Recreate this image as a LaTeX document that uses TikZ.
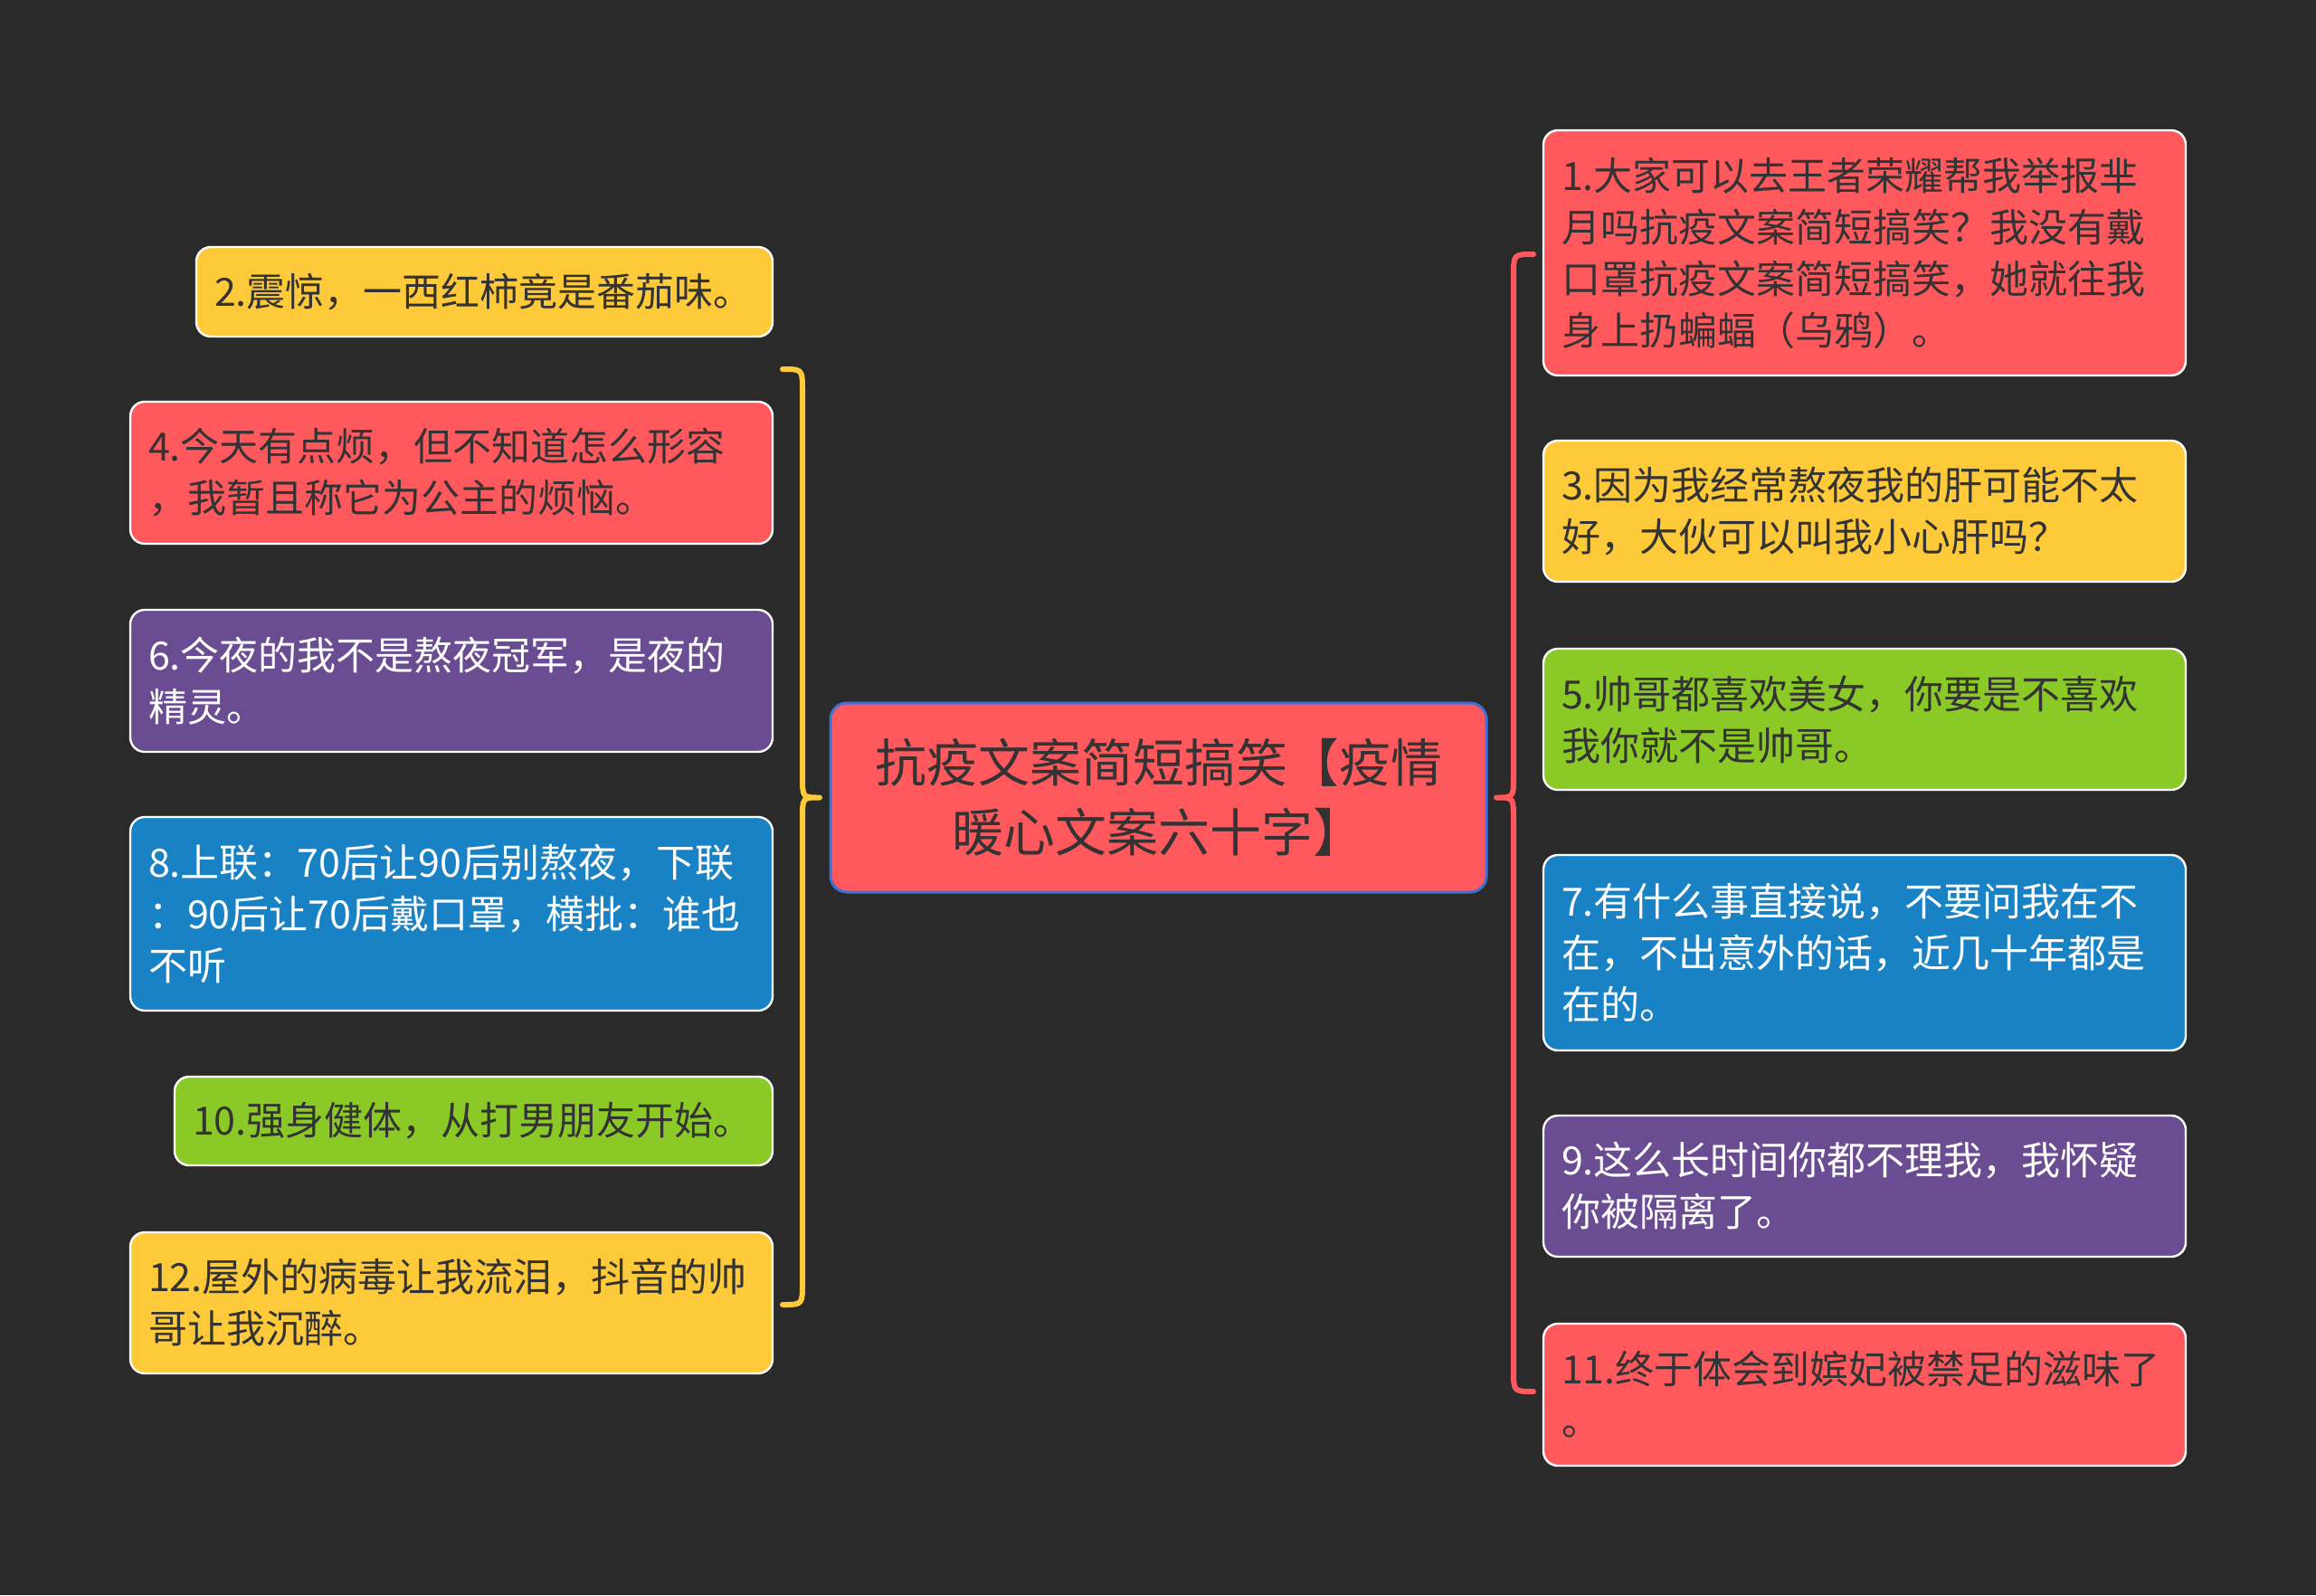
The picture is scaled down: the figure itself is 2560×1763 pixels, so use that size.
\documentclass[tikz,border=0pt]{standalone}
\usepackage{fontspec}
\setmainfont{Noto Sans CJK SC}
\definecolor{bg}{HTML}{2A2A2A}
\definecolor{cred}{HTML}{FF595E}
\definecolor{cyel}{HTML}{FFCA3A}
\definecolor{cgrn}{HTML}{8AC926}
\definecolor{cblu}{HTML}{1982C4}
\definecolor{cpur}{HTML}{6A4C93}
\definecolor{dtext}{HTML}{333333}
\definecolor{cborder}{HTML}{3F6FD8}
\begin{document}
\begin{tikzpicture}[x=0.5pt,y=-0.5pt,
  leaf/.style 2 args={rectangle, rounded corners=8pt, draw=white, line width=1.2pt,
    fill=#1, text=#2, align=left, inner xsep=10pt, inner ysep=0pt,
    font=\fontsize{21.5}{28.5}\selectfont},
  wide/.style={text width=335pt},
  root/.style={rectangle, rounded corners=9pt, draw=cborder, line width=1.5pt,
    fill=cred, text=dtext, align=center, inner sep=0pt,
    minimum width=362.5pt, minimum height=104.5pt,
    font=\fontsize{28.5}{38.5}\selectfont},
  brace/.style={line width=3pt, line cap=round, line join=round}]
\fill[bg] (0,0) rectangle (2560,1763);
\useasboundingbox (0,0) rectangle (2560,1763);

% center
\node[root] (c) at (1280.5,881.5) {抗疫文案简短搞笑【疫情\\暖心文案六十字】};

% left
\node[leaf={cyel}{dtext}, text width=298.5pt, minimum height=49.5pt] (b2) at (535.5,322.5) {2.震惊，一西红柿竟是番茄味。};
\node[leaf={cred}{dtext}, wide, minimum height=78.5pt] (b4) at (499,522.5) {4.今天有点烦，但不知道怎么形容\\，我暂且称它为公主的烦恼。};
\node[leaf={cpur}{white}, wide, minimum height=78.5pt] (b6) at (499,752.5) {6.今夜的我不是熬夜冠军，是夜的\\精灵。};
\node[leaf={cblu}{white}, wide, minimum height=107pt] (b8) at (499,1010) {8.上联：70后让90后别熬夜，下联\\：90后让70后戴口罩，横批：谁也\\不听};
\node[leaf={cgrn}{dtext}, text width=310.5pt, minimum height=49pt] (b10) at (523.5,1239) {10.强身健体，从打男朋友开始。};
\node[leaf={cyel}{dtext}, wide, minimum height=78pt] (b12) at (499,1440) {12.屋外的病毒让我流泪，抖音的帅\\哥让我沉醉。};

% right
\node[leaf={cred}{dtext}, wide, minimum height=135.5pt] (b1) at (2061,279.5) {1.大家可以去王者荣耀帮我举报芈\\月吗抗疫文案简短搞笑？我没有戴\\口罩抗疫文案简短搞笑，她就往我\\身上扔蝙蝠（乌鸦）。};
\node[leaf={cyel}{dtext}, wide, minimum height=78pt] (b3) at (2061,565) {3.因为我经常熬夜我的肝可能不太\\好，大伙可以叫我小心肝吗？};
\node[leaf={cgrn}{dtext}, wide, minimum height=78pt] (b5) at (2061,795) {5.帅哥都喜欢美女，你要是不喜欢\\我你就不是帅哥。};
\node[leaf={cblu}{white}, wide, minimum height=108pt] (b7) at (2061,1053) {7.有什么事直接说，不要问我在不\\在，不出意外的话，近几十年都是\\在的。};
\node[leaf={cpur}{white}, wide, minimum height=78pt] (b9) at (2061,1311) {9.这么长时间你都不理我，我怀疑\\你被隔离了。};
\node[leaf={cred}{dtext}, wide, minimum height=78.5pt] (b11) at (2061,1541.5) {11.终于体会到嫔妃被禁足的滋味了\\。};

% braces
\coordinate (lt) at (865,408);
\coordinate (lb) at (865,1442);
\coordinate (ltip) at (906,881.5);
\coordinate (rt) at (1695,281);
\coordinate (rb) at (1695,1538);
\coordinate (rtip) at (1654,881.5);

\draw[brace, cyel] (lt) .. controls (887,408) .. (887,432) -- (887,858)
  .. controls (887,881.5) .. (ltip) .. controls (887,881.5) .. (887,905)
  -- (887,1418) .. controls (887,1442) .. (lb);
\draw[brace, cred] (rt) .. controls (1673,281) .. (1673,305) -- (1673,858)
  .. controls (1673,881.5) .. (rtip) .. controls (1673,881.5) .. (1673,905)
  -- (1673,1514) .. controls (1673,1538) .. (rb);
\end{tikzpicture}
\end{document}
